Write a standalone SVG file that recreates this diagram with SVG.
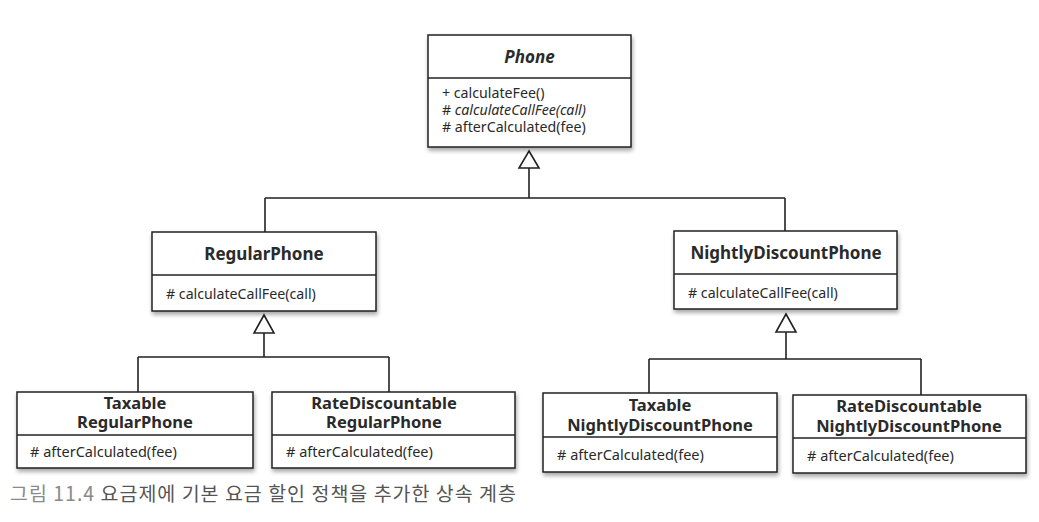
<svg xmlns="http://www.w3.org/2000/svg" width="1039" height="522" viewBox="0 0 1039 522">
<defs>
<filter id="sh" x="-10%" y="-10%" width="120%" height="130%">
<feGaussianBlur in="SourceAlpha" stdDeviation="2"/>
<feOffset dx="1" dy="3" result="b"/>
<feComponentTransfer><feFuncA type="linear" slope="0.35"/></feComponentTransfer>
<feMerge><feMergeNode/><feMergeNode in="SourceGraphic"/></feMerge>
</filter>
</defs>
<style>
.box{fill:#fff;stroke:#222;stroke-width:1.5;filter:url(#sh)}
.div{stroke:#222;stroke-width:1.3}
.t{font-family:"Noto Sans","Noto Sans CJK KR",sans-serif;font-weight:bold;font-size:17px;fill:#2a2a2a;text-anchor:middle}
.t2{font-family:"Noto Sans","Noto Sans CJK KR",sans-serif;font-weight:bold;font-size:16.5px;fill:#2a2a2a;text-anchor:middle}
.m{font-family:"Noto Sans","Noto Sans CJK KR",sans-serif;font-size:14.2px;fill:#2a2a2a}
.mb{font-family:"Noto Sans","Noto Sans CJK KR",sans-serif;font-size:14.5px;fill:#2a2a2a}
.c{stroke:#222;stroke-width:1.6;fill:none}
.tri{fill:#fff;stroke:#222;stroke-width:1.6;stroke-linejoin:miter}
.cap{font-family:"Noto Sans CJK KR","Noto Sans",sans-serif;font-size:19.5px}
</style>
<rect width="1039" height="522" fill="#fff"/>
<g id="connectors">
<path class="c" d="M529,168 V198 M265,198 H785 M265,198 V232 M785,198 V231"/>
<polygon class="tri" points="529,151 539,168 519,168"/>
<path class="c" d="M264,333 V357 M138,357 H389 M138,357 V392 M389,357 V392"/>
<polygon class="tri" points="264,315 274,333 254,333"/>
<path class="c" d="M786,332 V359 M649,359 H921 M649,359 V393 M921,359 V395"/>
<polygon class="tri" points="786,314 796,332 776,332"/>
</g>
<g id="Phone">
<rect class="box" x="428" y="35" width="203" height="112"/>
<line class="div" x1="428" y1="78" x2="631" y2="78"/>
<text class="t" x="529.5" y="63" font-style="italic">Phone</text>
<text class="m" x="442" y="98">+ calculateFee()</text>
<text class="m" x="442" y="115"># <tspan font-style="italic">calculateCallFee(call)</tspan></text>
<text class="m" x="442" y="132"># afterCalculated(fee)</text>
</g>
<g id="RegularPhone">
<rect class="box" x="152" y="232" width="224" height="79"/>
<line class="div" x1="152" y1="275" x2="376" y2="275"/>
<text class="t" x="264" y="260">RegularPhone</text>
<text class="m" x="166" y="299"># calculateCallFee(call)</text>
</g>
<g id="NightlyDiscountPhone">
<rect class="box" x="674" y="231" width="223" height="78"/>
<line class="div" x1="674" y1="274" x2="897" y2="274"/>
<text class="t" x="786" y="259">NightlyDiscountPhone</text>
<text class="m" x="688" y="298"># calculateCallFee(call)</text>
</g>
<g id="TaxableRegularPhone">
<rect class="box" x="17" y="392" width="236" height="76"/>
<line class="div" x1="17" y1="435" x2="253" y2="435"/>
<text class="t2"><tspan x="135" y="409">Taxable</tspan><tspan x="135" y="428">RegularPhone</tspan></text>
<text class="mb" x="30" y="457"># afterCalculated(fee)</text>
</g>
<g id="RateDiscountableRegularPhone">
<rect class="box" x="272" y="392" width="243" height="76"/>
<line class="div" x1="272" y1="435" x2="515" y2="435"/>
<text class="t2"><tspan x="384" y="409">RateDiscountable</tspan><tspan x="384" y="428">RegularPhone</tspan></text>
<text class="mb" x="286" y="457"># afterCalculated(fee)</text>
</g>
<g id="TaxableNightlyDiscountPhone">
<rect class="box" x="543" y="393" width="234" height="79"/>
<line class="div" x1="543" y1="437" x2="777" y2="437"/>
<text class="t2"><tspan x="660" y="411">Taxable</tspan><tspan x="660" y="431">NightlyDiscountPhone</tspan></text>
<text class="mb" x="557" y="460"># afterCalculated(fee)</text>
</g>
<g id="RateDiscountableNightlyDiscountPhone">
<rect class="box" x="793" y="395" width="233" height="78"/>
<line class="div" x1="793" y1="438" x2="1026" y2="438"/>
<text class="t2"><tspan x="909" y="412">RateDiscountable</tspan><tspan x="909" y="432">NightlyDiscountPhone</tspan></text>
<text class="mb" x="807" y="461"># afterCalculated(fee)</text>
</g>
<text class="cap" x="10" y="501" textLength="506" lengthAdjust="spacing"><tspan fill="#8a8a8a">그림 11.4</tspan><tspan fill="#555"> 요금제에 기본 요금 할인 정책을 추가한 상속 계층</tspan></text>
</svg>
